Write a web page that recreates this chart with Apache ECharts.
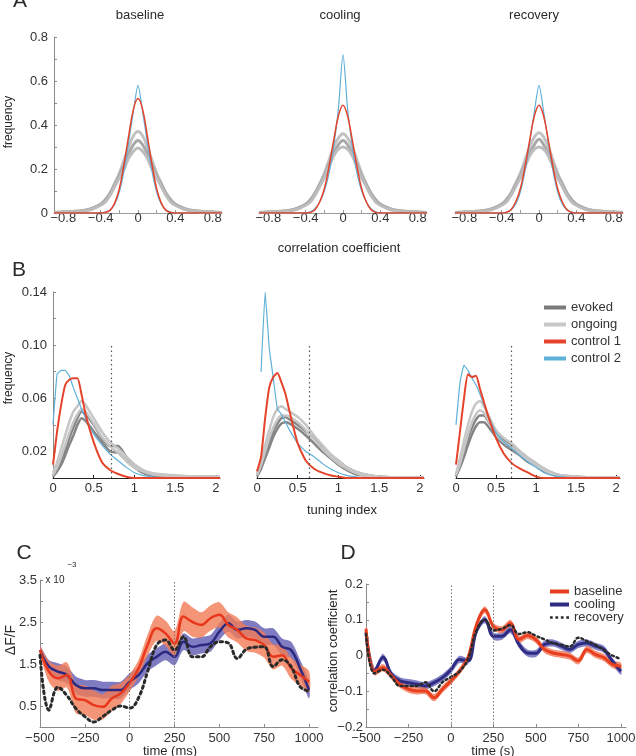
<!DOCTYPE html>
<html>
<head>
<meta charset="utf-8">
<script src="https://cdn.jsdelivr.net/npm/echarts@6/dist/echarts.min.js"></script>
<style>
html,body{margin:0;padding:0;background:#fff;}
#main{width:636px;height:756px;}
</style>
</head>
<body>
<div id="main"></div>
<script>
// ---- A: correlation coefficient distributions ----
const xA = [-0.9,-0.8,-0.6,-0.5,-0.4,-0.35,-0.3,-0.25,-0.2,-0.15,-0.1,-0.05,0,0.05,0.1,0.15,0.2,0.25,0.3,0.35,0.4,0.5,0.6,0.8,0.9];
const aBaseGrayHi  = [0.002,0.004,0.01,0.02,0.04,0.06,0.09,0.135,0.18,0.24,0.3,0.35,0.37,0.35,0.3,0.24,0.18,0.135,0.09,0.06,0.04,0.02,0.01,0.004,0.002];
const aBaseGrayMid = [0.002,0.004,0.01,0.02,0.04,0.06,0.09,0.13,0.17,0.22,0.27,0.31,0.33,0.31,0.27,0.22,0.17,0.13,0.09,0.06,0.04,0.02,0.01,0.004,0.002];
const aBaseGrayLo  = [0.001,0.003,0.008,0.016,0.035,0.05,0.08,0.12,0.16,0.2,0.25,0.28,0.295,0.28,0.25,0.2,0.16,0.12,0.08,0.05,0.035,0.016,0.008,0.003,0.001];
const aBaseRed     = [0,0,0,0,0,0.002,0.012,0.045,0.11,0.22,0.35,0.47,0.52,0.47,0.35,0.22,0.11,0.045,0.012,0.002,0,0,0,0,0];
const aBaseBlue    = [0,0,0,0,0.001,0.004,0.014,0.04,0.095,0.19,0.32,0.46,0.58,0.46,0.32,0.19,0.095,0.04,0.014,0.004,0.001,0,0,0,0];
const aCoolGrayHi  = [0.002,0.004,0.01,0.02,0.04,0.06,0.09,0.13,0.18,0.24,0.3,0.34,0.36,0.34,0.3,0.24,0.18,0.13,0.09,0.06,0.04,0.02,0.01,0.004,0.002];
const aCoolGrayMid = [0.002,0.004,0.01,0.02,0.04,0.06,0.09,0.13,0.17,0.22,0.27,0.31,0.33,0.31,0.27,0.22,0.17,0.13,0.09,0.06,0.04,0.02,0.01,0.004,0.002];
const aCoolGrayLo  = [0.001,0.003,0.008,0.016,0.035,0.05,0.08,0.12,0.16,0.21,0.26,0.29,0.3,0.29,0.26,0.21,0.16,0.12,0.08,0.05,0.035,0.016,0.008,0.003,0.001];
const aCoolRed     = [0,0,0,0,0,0.003,0.015,0.05,0.11,0.21,0.33,0.44,0.49,0.44,0.33,0.21,0.11,0.05,0.015,0.003,0,0,0,0,0];
const aCoolBlue    = [0,0,0,0,0.001,0.005,0.02,0.05,0.1,0.18,0.3,0.47,0.72,0.47,0.3,0.18,0.1,0.05,0.02,0.005,0.001,0,0,0,0];
const aRecGrayHi   = [0.002,0.004,0.01,0.02,0.04,0.06,0.09,0.135,0.18,0.24,0.3,0.345,0.365,0.345,0.3,0.24,0.18,0.135,0.09,0.06,0.04,0.02,0.01,0.004,0.002];
const aRecGrayMid  = [0.002,0.004,0.01,0.02,0.04,0.06,0.09,0.13,0.17,0.22,0.27,0.31,0.335,0.31,0.27,0.22,0.17,0.13,0.09,0.06,0.04,0.02,0.01,0.004,0.002];
const aRecGrayLo   = [0.001,0.003,0.008,0.016,0.035,0.05,0.08,0.12,0.16,0.21,0.26,0.29,0.3,0.29,0.26,0.21,0.16,0.12,0.08,0.05,0.035,0.016,0.008,0.003,0.001];
const aRecRed      = [0,0,0,0,0,0.003,0.015,0.05,0.11,0.21,0.33,0.44,0.49,0.44,0.33,0.21,0.11,0.05,0.015,0.003,0,0,0,0,0];
const aRecBlue     = [0,0,0,0,0.001,0.004,0.014,0.04,0.095,0.19,0.32,0.46,0.58,0.46,0.32,0.19,0.095,0.04,0.014,0.004,0.001,0,0,0,0];
const aTitles = ['baseline', 'cooling', 'recovery'];
const aLabels = [-0.8, -0.4, 0, 0.4, 0.8];
const aYLabels = [0, 0.2, 0.4, 0.6, 0.8];

// ---- B: tuning index distributions ----
const xB = [0,0.05,0.1,0.15,0.2,0.25,0.3,0.35,0.4,0.5,0.6,0.7,0.8,0.9,1.0,1.1,1.2,1.3,1.5,1.75,2.05];
const b1OngHi = [0.004,0.012,0.022,0.032,0.042,0.05,0.054,0.058,0.055,0.045,0.035,0.027,0.022,0.016,0.01,0.006,0.004,0.003,0.002,0.001,0.001];
const b1OngLo = [0.002,0.008,0.016,0.025,0.034,0.042,0.048,0.052,0.05,0.041,0.031,0.024,0.019,0.013,0.008,0.005,0.003,0.002,0.001,0.001,0.001];
const b1EvHi  = [0.002,0.007,0.013,0.021,0.03,0.038,0.045,0.05,0.048,0.04,0.03,0.024,0.024,0.016,0.01,0.006,0.003,0.002,0.001,0.001,0.001];
const b1EvLo  = [0.001,0.005,0.01,0.017,0.025,0.032,0.04,0.045,0.043,0.035,0.027,0.02,0.019,0.013,0.008,0.004,0.002,0.001,0.001,0.0005,0.0005];
const b1Red   = [0.01,0.035,0.055,0.07,0.074,0.075,0.075,0.063,0.048,0.027,0.012,0.006,0.003,0.001,0,0,0,0,0,0,0];
const b1Blue  = [0.04,0.078,0.081,0.081,0.077,0.068,0.06,0.052,0.045,0.033,0.025,0.018,0.013,0.008,0.004,0.002,0.001,0,0,0,0];
const b2OngHi = [0.003,0.013,0.025,0.036,0.046,0.052,0.054,0.052,0.05,0.046,0.04,0.032,0.025,0.018,0.013,0.008,0.005,0.003,0.001,0.0005,0.0005];
const b2OngLo = [0.002,0.01,0.02,0.03,0.038,0.044,0.047,0.047,0.046,0.042,0.036,0.029,0.022,0.016,0.011,0.007,0.004,0.002,0.001,0.0005,0.0005];
const b2EvHi  = [0.002,0.009,0.018,0.027,0.035,0.041,0.045,0.046,0.044,0.04,0.035,0.03,0.024,0.018,0.013,0.008,0.005,0.003,0.001,0.0005,0.0005];
const b2EvLo  = [0.001,0.007,0.015,0.023,0.031,0.037,0.041,0.042,0.041,0.037,0.032,0.026,0.02,0.015,0.01,0.006,0.003,0.002,0.001,0.0005,0.0005];
const b2Red   = [0.005,0.016,0.045,0.068,0.076,0.079,0.072,0.063,0.05,0.026,0.013,0.007,0.004,0.002,0.001,0,0,0,0,0,0];
const b2Blue  = [null,0.08,0.14,0.098,0.075,0.052,0.048,0.042,0.036,0.026,0.02,0.016,0.011,0.007,0.004,0.002,0.001,0,0,0,0];
const b3OngHi = [0.003,0.015,0.028,0.04,0.05,0.056,0.058,0.054,0.048,0.036,0.03,0.026,0.02,0.015,0.011,0.007,0.004,0.002,0.001,0.0005,0.0005];
const b3OngLo = [0.002,0.011,0.022,0.033,0.042,0.048,0.051,0.049,0.044,0.033,0.027,0.023,0.018,0.013,0.009,0.006,0.003,0.002,0.001,0.0005,0.0005];
const b3EvHi  = [0.002,0.01,0.02,0.03,0.038,0.044,0.047,0.047,0.043,0.034,0.028,0.024,0.02,0.015,0.011,0.007,0.004,0.002,0.001,0.0005,0.0005];
const b3EvLo  = [0.001,0.008,0.016,0.025,0.033,0.039,0.042,0.042,0.039,0.031,0.025,0.021,0.017,0.012,0.009,0.005,0.003,0.001,0.0005,0.0003,0.0003];
const b3Red   = [0.01,0.035,0.06,0.078,0.076,0.077,0.067,0.057,0.047,0.03,0.018,0.011,0.007,0.004,0.001,0,0,0,0,0,0];
const b3Blue  = [0.04,0.072,0.085,0.081,0.075,0.07,0.063,0.055,0.047,0.034,0.027,0.022,0.017,0.012,0.008,0.004,0.002,0.001,0,0,0];
const bThresh = [0.72, 0.64, 0.69];
const bThreshTop = 0.1;
const bLabels = [0, 0.5, 1, 1.5, 2];
const bYLabels = [0.02, 0.06, 0.10, 0.14];

// ---- C: dF/F (x 1e-3) ----
const tC = [-500,-450,-400,-350,-300,-250,-200,-150,-100,-50,0,50,100,150,200,250,300,350,400,450,500,550,600,650,700,750,800,850,900,950,1000];
const cBase  = [1.83,1.32,1.16,1.24,0.68,0.64,0.52,0.48,0.68,0.8,1.05,1.4,1.95,2.35,2.23,1.99,2.63,2.5,2.43,2.59,2.67,2.43,2.31,2.11,2.07,1.95,1.67,1.71,1.4,1.24,1.08];
const cBaseErr = [0.1,0.25,0.3,0.3,0.35,0.35,0.35,0.3,0.3,0.25,0.2,0.2,0.25,0.3,0.3,0.3,0.35,0.35,0.3,0.3,0.3,0.3,0.3,0.3,0.3,0.3,0.3,0.25,0.25,0.25,0.25];
const cCool  = [1.83,1.44,1.32,1.24,1.0,0.92,0.92,0.88,0.88,0.88,1.08,1.24,1.52,1.67,1.79,1.67,2.03,1.91,1.95,1.99,2.27,2.47,2.31,2.35,2.31,2.15,2.15,1.91,1.83,1.4,0.88];
const cCoolErr = [0.1,0.15,0.2,0.2,0.2,0.2,0.2,0.2,0.2,0.2,0.2,0.2,0.2,0.2,0.2,0.2,0.2,0.2,0.2,0.2,0.2,0.2,0.2,0.2,0.2,0.2,0.2,0.2,0.2,0.2,0.2];
const cRec   = [1.71,0.4,0.95,0.75,0.44,0.25,0.12,0.25,0.4,0.5,0.45,0.7,1.32,1.95,2.07,1.83,2.15,1.67,1.67,1.91,2.03,2.0,1.63,1.85,1.9,1.91,1.44,1.6,1.44,0.96,0.85];
const cXLabels = [-500,-250,0,250,500,750,1000];
const cYLabels = [0.5,1.5,2.5,3.5];

// ---- D: correlation coefficient over time ----
const tD = tC;
const dBase = [0.075,-0.045,-0.034,-0.057,-0.081,-0.094,-0.099,-0.099,-0.118,-0.094,-0.071,-0.044,-0.006,0.086,0.128,0.081,0.072,0.09,0.045,0.056,0.044,0.017,0.007,0.003,-0.002,-0.015,0.017,0.003,-0.006,-0.025,-0.03];
const dCool = [0.065,-0.044,-0.005,-0.053,-0.071,-0.076,-0.08,-0.085,-0.076,-0.062,-0.04,-0.011,-0.015,0.068,0.1,0.054,0.054,0.072,0.031,0.007,0.006,0.031,0.035,0.026,0.017,0.031,0.035,0.026,0.017,-0.016,-0.044];
const dRec  = [0.06,-0.05,-0.04,-0.06,-0.085,-0.085,-0.085,-0.075,-0.1,-0.075,-0.06,-0.045,-0.01,0.07,0.1,0.07,0.075,0.085,0.06,0.065,0.055,0.045,0.035,0.03,0.025,0.05,0.04,0.03,0.015,0,-0.01];
const dErr  = [0.01,0.01,0.01,0.01,0.01,0.01,0.01,0.01,0.01,0.01,0.01,0.01,0.01,0.01,0.01,0.01,0.01,0.01,0.01,0.01,0.01,0.01,0.01,0.01,0.01,0.01,0.01,0.01,0.01,0.01,0.01];
const dYLabels = [-0.2,-0.1,0,0.1,0.2];

const FONT = '"Liberation Sans", Arial, sans-serif';
const RED = '#e5432b', LBLUE = '#5fb0d8', EVOKED = '#858585', ONGOING = '#c6c6c6';
const TXT = '#333';

function num(v) { return (v < 0 ? '\u2212' : '') + String(Math.abs(v)); }
function pairs(xs, ys) { return xs.map((x, i) => [x, ys[i]]); }

function line(name, idx, xs, ys, color, width, extra) {
  return Object.assign({
    type: 'line', name: name, xAxisIndex: idx, yAxisIndex: idx,
    data: pairs(xs, ys), symbol: 'none', smooth: 0.4, silent: true,
    lineStyle: { color: color, width: width }, itemStyle: { color: color },
    emphasis: { disabled: true }
  }, extra || {});
}
// shaded error band: one polygon through the axis scales (upper edge, then lower edge back)
function band(idx, xs, mid, err, color, opacity) {
  return {
    type: 'custom', xAxisIndex: idx, yAxisIndex: idx, silent: true, clip: true,
    data: xs.map((x, i) => [x, mid[i] - err[i], mid[i] + err[i]]),
    encode: { x: 0, y: [1, 2] },
    renderItem: function (params, api) {
      if (params.dataIndex !== 0) return null;
      const up = [], lo = [];
      for (let i = 0; i < xs.length; i++) {
        up.push(api.coord([xs[i], mid[i] + err[i]]));
        lo.push(api.coord([xs[i], mid[i] - err[i]]));
      }
      return {
        type: 'polygon',
        shape: { points: up.concat(lo.reverse()), smooth: 0.3 },
        style: { fill: color, opacity: opacity }
      };
    }
  };
}

function xAxis(idx, min, max, labels, ticks, fmt, lineColor, margin) {
  return {
    gridIndex: idx, type: 'value', min: min, max: max,
    axisLine: { show: true, onZero: false, lineStyle: { color: lineColor, width: 1 } },
    axisTick: { show: true, inside: true, length: 3, customValues: ticks, lineStyle: { color: lineColor } },
    axisLabel: { show: true, customValues: labels, formatter: fmt, margin: margin, color: TXT, fontSize: 13, fontFamily: FONT },
    splitLine: { show: false }
  };
}
function yAxis(idx, min, max, labels, ticks, fmt, show, margin) {
  return {
    gridIndex: idx, type: 'value', min: min, max: max, show: show,
    axisLine: { show: true, onZero: false, lineStyle: { color: '#8a8a8a', width: 1 } },
    axisTick: { show: true, inside: true, length: 3, customValues: ticks, lineStyle: { color: '#8a8a8a' } },
    axisLabel: { show: true, customValues: labels, formatter: fmt, margin: margin, color: TXT, fontSize: 13, fontFamily: FONT },
    splitLine: { show: false }
  };
}

const grids = [
  { left: 54, top: 37, width: 168, height: 176 },
  { left: 259, top: 37, width: 168, height: 176 },
  { left: 455, top: 37, width: 168, height: 176 },
  { left: 53, top: 292, width: 167, height: 186 },
  { left: 257, top: 292, width: 167, height: 186 },
  { left: 456, top: 292, width: 164, height: 186 },
  { left: 40, top: 580, width: 278, height: 147 },
  { left: 366, top: 584, width: 260, height: 143 }
].map(g => Object.assign({ outerBoundsMode: 'none', containLabel: false }, g));

const aTicks = [-0.8,-0.6,-0.4,-0.2,0,0.2,0.4,0.6,0.8];
const aYTicks = [0,0.1,0.2,0.3,0.4,0.5,0.6,0.7,0.8];
const bTicks = [0,0.5,1,1.5,2];
const bYTicks = [0.02,0.04,0.06,0.08,0.10,0.12,0.14];
const cYTicks = [0.5,1,1.5,2,2.5,3,3.5];
const dYTicks = [-0.2,-0.15,-0.1,-0.05,0,0.05,0.1,0.15,0.2];

const xAxes = [], yAxes = [];
for (let i = 0; i < 3; i++) {
  xAxes.push(xAxis(i, -0.9, 0.9, aLabels, aTicks, num, '#9a9a9a', -1));
  yAxes.push(yAxis(i, 0, 0.8, aYLabels, aYTicks, num, i === 0, 6));
}
for (let i = 3; i < 6; i++) {
  xAxes.push(xAxis(i, 0, 2.05, bLabels, bTicks, num, '#222', 4));
  yAxes.push(yAxis(i, 0, 0.14, bYLabels, bYTicks, v => v.toFixed(2), i === 3, 6));
}
xAxes.push(xAxis(6, -500, 1050, cXLabels, cXLabels, num, '#8a8a8a', 5));
yAxes.push(yAxis(6, 0, 3.5, cYLabels, cYTicks, v => v.toFixed(1), true, 3));
xAxes.push(xAxis(7, -500, 1030, cXLabels, cXLabels, num, '#8a8a8a', 5));
yAxes.push(yAxis(7, -0.2, 0.2, dYLabels, dYTicks, num, true, 3));

const series = [];
// A
const aSets = [
  [aBaseGrayHi, aBaseGrayMid, aBaseGrayLo, aBaseRed, aBaseBlue],
  [aCoolGrayHi, aCoolGrayMid, aCoolGrayLo, aCoolRed, aCoolBlue],
  [aRecGrayHi, aRecGrayMid, aRecGrayLo, aRecRed, aRecBlue]
];
aSets.forEach((s, i) => {
  series.push(line('ongoing', i, xA, s[0], '#c2c2c2', 3));
  series.push(line('evoked', i, xA, s[1], '#a8a8a8', 3));
  series.push(line('ongoing', i, xA, s[2], '#bcbcbc', 3));
  series.push(line('control 2', i, xA, s[4], LBLUE, 1.2, { smooth: 0.25 }));
  series.push(line('control 1', i, xA, s[3], RED, 1.5));
});
// B
const bSets = [
  [b1OngHi, b1OngLo, b1EvHi, b1EvLo, b1Red, b1Blue],
  [b2OngHi, b2OngLo, b2EvHi, b2EvLo, b2Red, b2Blue],
  [b3OngHi, b3OngLo, b3EvHi, b3EvLo, b3Red, b3Blue]
];
bSets.forEach((s, k) => {
  const i = k + 3;
  series.push(line('evoked', i, xB, s[2], EVOKED, 2.5, { smooth: 0.2 }));
  series.push(line('evoked', i, xB, s[3], EVOKED, 2.5, { smooth: 0.2 }));
  series.push(line('ongoing', i, xB, s[0], ONGOING, 2.5, { smooth: 0.2 }));
  series.push(line('ongoing', i, xB, s[1], ONGOING, 2.5, { smooth: 0.2 }));
  series.push(line('control 2', i, xB, s[5], LBLUE, 1.2, { smooth: 0.1 }));
  series.push(line('control 1', i, xB, s[4], RED, 2, {
    smooth: 0.2,
    markLine: {
      silent: true, symbol: 'none', label: { show: false },
      lineStyle: { type: [1.5, 3], color: '#555', width: 1.2 },
      data: [[{ coord: [bThresh[k], 0] }, { coord: [bThresh[k], bThreshTop] }]]
    }
  }));
});
// C
const vlines = {
  silent: true, symbol: 'none', label: { show: false },
  lineStyle: { type: [1.5, 2], color: '#777', width: 1 },
  data: [{ xAxis: 0 }, { xAxis: 250 }]
};
series.push(band(6, tC, cCool, cCoolErr, '#5f5bb2', 0.8));
series.push(band(6, tC, cBase, cBaseErr, '#f27a55', 0.8));
series.push(line('cooling', 6, tC, cCool, '#2b2980', 2.5, { markLine: vlines }));
series.push(line('baseline', 6, tC, cBase, '#e8371c', 2.5));
series.push(line('recovery', 6, tC, cRec, '#2a2a2a', 3, { lineStyle: { color: '#2a2a2a', width: 3, type: [2.5, 3.5], cap: 'round' } }));
// D
series.push(band(7, tD, dCool, dErr, '#5a58b5', 0.75));
series.push(band(7, tD, dBase, dErr, '#f26d4c', 0.75));
series.push(line('cooling', 7, tD, dCool, '#2e2c82', 3, { markLine: vlines }));
series.push(line('baseline', 7, tD, dBase, '#e8401f', 3));
series.push(line('recovery', 7, tD, dRec, '#2a2a2a', 2.5, { lineStyle: { color: '#2a2a2a', width: 2.5, type: [2, 3], cap: 'round' } }));

function txt(x, y, text, size, extra) {
  return Object.assign({
    type: 'text', x: x, y: y, silent: true,
    style: { text: text, fill: '#2a2a2a', fontSize: size, fontFamily: FONT, align: 'center', verticalAlign: 'middle' }
  }, extra || {});
}
const graphics = [
  txt(20, 1, 'A', 21),
  txt(140, 15, aTitles[0], 13),
  txt(340, 15, aTitles[1], 13),
  txt(534, 15, aTitles[2], 13),
  txt(9, 122, 'frequency', 12, { rotation: Math.PI / 2 }),
  txt(339, 248, 'correlation coefficient', 13),
  txt(19, 270, 'B', 21),
  txt(9, 378, 'frequency', 12, { rotation: Math.PI / 2 }),
  txt(342, 510, 'tuning index', 13),
  txt(24, 553, 'C', 21),
  txt(55, 580, 'x 10', 10),
  txt(72, 565, '\u22123', 8),
  txt(11, 640, '\u0394F/F', 14, { rotation: Math.PI / 2 }),
  txt(170, 751, 'time (ms)', 13),
  txt(348, 553, 'D', 21),
  txt(333, 651, 'correlation coefficient', 13, { rotation: Math.PI / 2 }),
  txt(493, 751, 'time (s)', 13)
];

const legendText = { color: TXT, fontSize: 13, fontFamily: FONT };
const dots = 'path://M0 0h3v3h-3z M6 0h3v3h-3z M12 0h3v3h-3z M18 0h3v3h-3z';
const option = {
  animation: false,
  backgroundColor: '#fff',
  grid: grids,
  xAxis: xAxes,
  yAxis: yAxes,
  legend: [
    {
      orient: 'vertical', left: 539, top: 296, itemWidth: 22, itemHeight: 4, itemGap: 4,
      selectedMode: false, textStyle: legendText, icon: 'rect',
      data: [
        { name: 'evoked', itemStyle: { color: '#7a7a7a' } },
        { name: 'ongoing', itemStyle: { color: '#c8c8c8' } },
        { name: 'control 1', itemStyle: { color: RED } },
        { name: 'control 2', itemStyle: { color: LBLUE } }
      ]
    },
    {
      orient: 'vertical', left: 545, top: 580, itemWidth: 19, itemHeight: 4, itemGap: 0,
      selectedMode: false, textStyle: legendText, icon: 'rect',
      data: [
        { name: 'baseline', itemStyle: { color: '#e8401f' } },
        { name: 'cooling', itemStyle: { color: '#2e2c82' } },
        { name: 'recovery', icon: dots, itemStyle: { color: '#2a2a2a' } }
      ]
    }
  ],
  graphic: graphics,
  series: series
};

const chart = echarts.init(document.getElementById('main'), null, { renderer: 'canvas' });
chart.setOption(option);
</script>
</body>
</html>
